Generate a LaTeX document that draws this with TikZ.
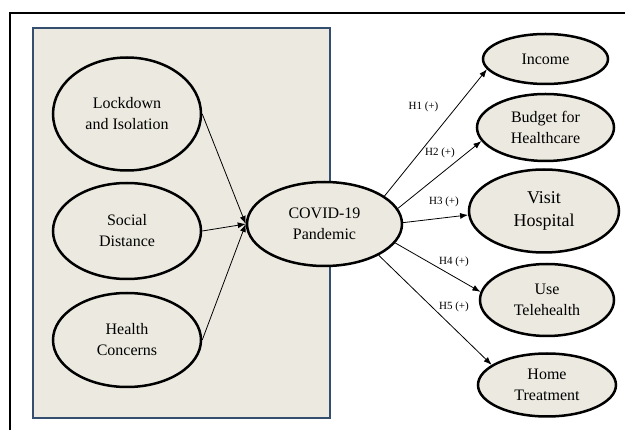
\documentclass[tikz,border=0pt]{standalone}
\usepackage{fontspec}
\setmainfont{Liberation Serif}
\usetikzlibrary{arrows.meta,shapes.geometric}
\definecolor{panelBeige}{RGB}{236,234,224}
\definecolor{panelBlue}{RGB}{52,78,112}

\begin{document}
\begin{tikzpicture}[x=1pt, y=-1pt, >={Latex[length=8pt,width=6pt]},
    construct/.style={ellipse, draw=black, line width=2.5pt, fill=panelBeige,
      inner sep=0pt, align=center, font=\fontsize{16}{21}\selectfont},
    link/.style={->, line width=0.8pt},
    hyp/.style={inner sep=0pt, font=\fontsize{11}{13}\selectfont}]
  \useasboundingbox (0,0) rectangle (625,430);
  % --- frame and antecedent panel ---
  \draw[line width=2pt] (10,430) -- (10,13) -- (625,13);
  \draw[panelBlue, fill=panelBeige, line width=1.5pt] (33,28) rectangle (330,418);
  % --- antecedents ---
  \node[construct, minimum width=148pt, minimum height=113pt] (lock) at (127,114) {Lockdown\\and Isolation};
  \node[construct, minimum width=148pt, minimum height=96pt] (social) at (127,231) {Social\\Distance};
  \node[construct, minimum width=148pt, minimum height=94pt] (health) at (127,340) {Health\\Concerns};
  % --- central construct ---
  \node[construct, minimum width=155pt, minimum height=84pt] (covid) at (324.5,224) {COVID-19\\Pandemic};
  % --- outcomes ---
  \node[construct, minimum width=125pt, minimum height=50pt] (income) at (545.5,59) {Income};
  \node[construct, minimum width=137pt, minimum height=67pt] (budget) at (545.5,127.5) {Budget for\\Healthcare};
  \node[construct, minimum width=150pt, minimum height=83pt,
    font=\fontsize{18}{23}\selectfont] (visit) at (544,211) {Visit\\Hospital};
  \node[construct, minimum width=134pt, minimum height=72pt] (tele) at (547,300) {Use\\Telehealth};
  \node[construct, minimum width=138pt, minimum height=63pt] (home) at (547,385) {Home\\Treatment};
  % --- paths into the pandemic ---
  \draw[link] (lock.east) -- (covid.west);
  \draw[link] (social.east) -- (covid.west);
  \draw[link] (health.east) -- (covid.west);
  % --- hypothesised paths ---
  \draw[link] (covid.25) -- (income.190);
  \draw[link] (covid.12) -- (budget.192);
  \draw[link] (covid.1) -- (visit.183);
  \draw[link] (covid.-15) -- (tele.173);
  \draw[link] (covid.-30) -- (home.160);
  \node[hyp] (h1) at (423.5,107) {H1 (+)};
  \node[hyp] (h2) at (440,153) {H2 (+)};
  \node[hyp] (h3) at (444,202) {H3 (+)};
  \node[hyp] (h4) at (454,262) {H4 (+)};
  \node[hyp] (h5) at (454,307) {H5 (+)};
\end{tikzpicture}
\end{document}
